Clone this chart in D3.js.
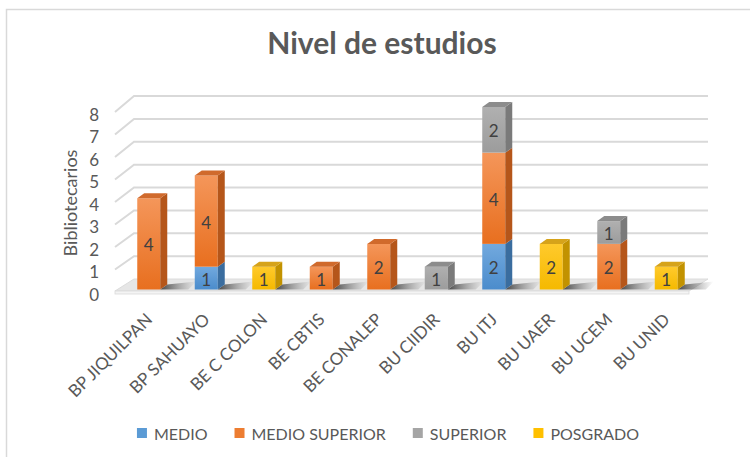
<!DOCTYPE html>
<html>
<head>
<meta charset="utf-8">
<script src="https://cdn.jsdelivr.net/npm/d3@7"></script>
<style>
  body { margin: 0; background: #fff; }
  svg { display: block; font-family: Lato, "Open Sans", sans-serif; }
</style>
</head>
<body>
<div id="chart"></div>
<script>
// data
const categories = ["BP JIQUILPAN", "BP SAHUAYO", "BE C COLON", "BE CBTIS", "BE CONALEP",
                    "BU CIIDIR", "BU ITJ", "BU UAER", "BU UCEM", "BU UNID"];
const seriesNames = ["MEDIO", "MEDIO SUPERIOR", "SUPERIOR", "POSGRADO"];
const medio         = [0, 1, 0, 0, 0, 0, 2, 0, 0, 0];
const medioSuperior = [4, 4, 0, 1, 2, 0, 4, 0, 2, 0];
const superior      = [0, 0, 0, 0, 0, 1, 2, 0, 1, 0];
const posgrado      = [0, 0, 1, 0, 0, 0, 0, 2, 0, 1];
const yTicks = [0, 1, 2, 3, 4, 5, 6, 7, 8];

const W = 750, H = 457;
const depthX = 7, depthY = -5;     // bar depth
const wallX = 19;                  // left wall depth

// colours: front top, front bottom, side, top
const palette = {
    "MEDIO":          { f1: "#72a9de", f2: "#4b8ccc", side: "#3a6d9f", top: "#5a8fc4" },
    "MEDIO SUPERIOR": { f1: "#f4965a", f2: "#e86f1f", side: "#b5561a", top: "#d06a2c" },
    "SUPERIOR":       { f1: "#b0b0b0", f2: "#9c9c9c", side: "#7a7a7a", top: "#8c8c8c" },
    "POSGRADO":       { f1: "#ffca2c", f2: "#f5b900", side: "#c29200", top: "#d6a31a" }
};
const legendColor = { "MEDIO": "#5b9bd5", "MEDIO SUPERIOR": "#ed7d31", "SUPERIOR": "#a5a5a5", "POSGRADO": "#ffc000" };

const table = categories.map((c, i) => ({
    cat: c,
    "MEDIO": medio[i],
    "MEDIO SUPERIOR": medioSuperior[i],
    "SUPERIOR": superior[i],
    "POSGRADO": posgrado[i]
}));
const stacked = d3.stack().keys(seriesNames)(table);

const svg = d3.select("#chart").append("svg")
    .attr("width", W).attr("height", H);

const defs = svg.append("defs");
seriesNames.forEach((s, i) => {
    const g = defs.append("linearGradient").attr("id", "front" + i)
        .attr("x1", 0).attr("y1", 0).attr("x2", 0).attr("y2", 1);
    g.append("stop").attr("offset", "0%").attr("stop-color", palette[s].f1);
    g.append("stop").attr("offset", "100%").attr("stop-color", palette[s].f2);
});
const sh = defs.append("linearGradient").attr("id", "shadow")
    .attr("x1", 0).attr("y1", 0).attr("x2", 1).attr("y2", 0);
sh.append("stop").attr("offset", "0%").attr("stop-color", "#333").attr("stop-opacity", 0.9);
sh.append("stop").attr("offset", "100%").attr("stop-color", "#777").attr("stop-opacity", 0);

// chart border (only top and left visible)
svg.append("rect")
    .attr("x", 6.5).attr("y", 9.5).attr("width", 800).attr("height", 500)
    .attr("fill", "none").attr("stroke", "#d9d9d9").attr("stroke-width", 1.5);

// title
svg.append("text")
    .attr("x", 382).attr("y", 54)
    .attr("text-anchor", "middle")
    .attr("font-size", 30).attr("font-weight", "bold")
    .attr("fill", "#595959")
    .text("Nivel de estudios");

// scales
const yFront = d3.scaleLinear().domain([0, 8]).range([292, 112]);
const yBack  = d3.scaleLinear().domain([0, 8]).range([279, 96]);
const yBar   = d3.scaleLinear().domain([0, 8]).range([289.5, 107]);
const x = d3.scaleBand().domain(categories).range([120, 695])
    .paddingInner(0.6).paddingOuter(0.3);
const wallLeft = 115, backLeft = wallLeft + wallX, backRight = 708;

// walls
const grid = svg.append("g").attr("stroke", "#d9d9d9").attr("stroke-width", 2).attr("fill", "none");
grid.selectAll("polyline").data(yTicks.filter(v => v > 0)).enter()
    .append("polyline")
    .attr("points", v => `${wallLeft},${yFront(v)} ${backLeft},${yBack(v)} ${backRight},${yBack(v)}`);

// floor
svg.append("polygon")
    .attr("points", `${wallLeft},${yFront(0) - 1} ${backLeft},${yBack(0)} ${backRight},${yBack(0)} ${backRight - wallX},${yFront(0) - 1}`)
    .attr("fill", "#e6e6e6").attr("stroke", "#dcdcdc");
svg.append("rect")
    .attr("x", wallLeft).attr("y", yFront(0) - 1)
    .attr("width", backRight - wallX - wallLeft).attr("height", 3)
    .attr("fill", "#f4f4f4").attr("stroke", "#d9d9d9").attr("stroke-width", 0.8);

// bar shadows on the floor
svg.append("g").selectAll("polygon").data(categories).enter()
    .append("polygon")
    .attr("points", c => {
        const x1 = x(c) + x.bandwidth();
        const yb = yBar(0);
        return `${x1},${yb} ${x1 + depthX},${yb + depthY} ${x1 + 36},${yb + depthY - 3} ${x1 + 28},${yb}`;
    })
    .attr("fill", "url(#shadow)");

// y axis labels
svg.append("g").selectAll("text").data(yTicks).enter()
    .append("text")
    .attr("x", 99).attr("y", v => yFront(v) + 2)
    .attr("text-anchor", "end").attr("dominant-baseline", "central")
    .attr("font-size", 17).attr("fill", "#595959")
    .text(d => d);

svg.append("text")
    .attr("transform", "translate(70,203) rotate(-90)")
    .attr("text-anchor", "middle").attr("dominant-baseline", "central")
    .attr("font-size", 18).attr("fill", "#595959")
    .text("Bibliotecarios");

// bars
const bw = x.bandwidth();
const barsG = svg.append("g");
categories.forEach((c, ci) => {
    const x0 = x(c);
    let topIdx = -1;
    stacked.forEach((layer, li) => { if (layer[ci][1] > layer[ci][0]) topIdx = li; });
    stacked.forEach((layer, li) => {
        const d = layer[ci];
        if (d[1] <= d[0]) return;
        const s = seriesNames[li];
        const yt = yBar(d[1]), yb = yBar(d[0]);
        const g = barsG.append("g");
        g.append("rect")
            .attr("x", x0).attr("y", yt).attr("width", bw).attr("height", yb - yt)
            .attr("fill", `url(#front${li})`);
        g.append("polygon")
            .attr("points", `${x0 + bw},${yt} ${x0 + bw + depthX},${yt + depthY} ${x0 + bw + depthX},${yb + depthY} ${x0 + bw},${yb}`)
            .attr("fill", palette[s].side);
        if (li === topIdx) {
            g.append("polygon")
                .attr("points", `${x0},${yt} ${x0 + depthX},${yt + depthY} ${x0 + bw + depthX},${yt + depthY} ${x0 + bw},${yt}`)
                .attr("fill", palette[s].top);
        }
        g.append("text")
            .attr("x", x0 + bw / 2).attr("y", (yt + yb) / 2 + 1)
            .attr("text-anchor", "middle").attr("dominant-baseline", "central")
            .attr("font-size", 17).attr("fill", "#404040")
            .text(d[1] - d[0]);
    });
});

// category labels
svg.append("g").selectAll("text").data(categories).enter()
    .append("text")
    .attr("transform", c => `translate(${x(c) + bw / 2},316) rotate(-45)`)
    .attr("text-anchor", "end").attr("dominant-baseline", "central")
    .attr("font-size", 17).attr("fill", "#595959")
    .text(c => c);

// legend
const legend = svg.append("g");
const items = legend.selectAll("g").data(seriesNames).enter().append("g");
items.append("rect").attr("width", 10).attr("height", 10).attr("y", -5)
    .attr("fill", s => legendColor[s]);
items.append("text").attr("x", 17).attr("dominant-baseline", "central")
    .attr("font-size", 16).attr("fill", "#595959")
    .text(s => s);
let lx = 0;
const offsets = [];
items.each(function () {
    offsets.push(lx);
    lx += 17 + this.querySelector("text").getComputedTextLength() + 27;
});
const total = lx - 27;
const startX = 388 - total / 2;
items.attr("transform", (s, i) => `translate(${startX + offsets[i]},433)`);
</script>
</body>
</html>
